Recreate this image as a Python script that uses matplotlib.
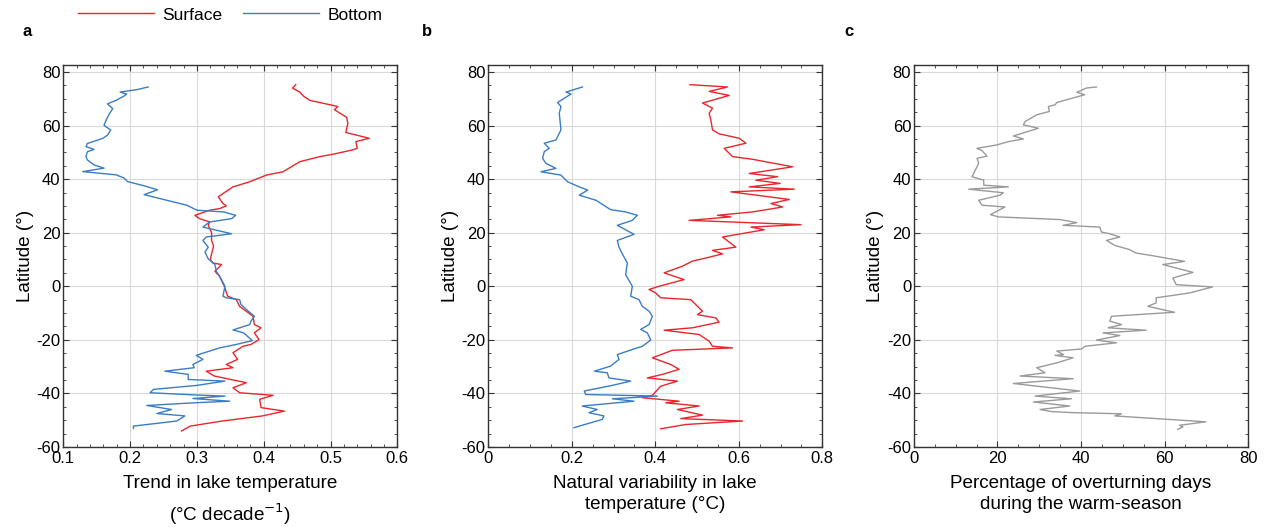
import numpy as np
import matplotlib
matplotlib.use("Agg")
import matplotlib.pyplot as plt
from matplotlib.ticker import MultipleLocator, FuncFormatter
from matplotlib.lines import Line2D

plt.rcParams['font.family'] = ['Liberation Sans', 'DejaVu Sans']
plt.rcParams['axes.unicode_minus'] = False

# ---- panel a: trend in lake temperature (degC / decade) ----
a_surf_lat = [75.25, 74, 72.5, 70.9, 69.4, 68.6, 67.1, 65.9, 63.1, 60.9, 57.4, 55.25, 54, 51.5, 50.9,
              49.25, 48.4, 46.5, 42.75, 41.5, 39, 37.1, 34.6, 33.4, 30.9, 30, 29, 28.4, 26.5, 25.25,
              24, 22.75, 20, 17.1, 15, 12.1, 10, 8.7, 8.1, 5.6, 3.7, 0, -3.7, -5, -7.5, -9.9, -11.2,
              -14.3, -15.5, -17.4, -19.9, -21.7, -22.4, -24.8, -27.3, -29.2, -30.4, -31.7, -33.5,
              -36, -37.9, -39.75, -40.7, -42.2, -45.3, -46.6, -48.4, -50.3, -52.2, -54]
a_surf_val = [0.448, 0.443, 0.454, 0.46, 0.469, 0.484, 0.511, 0.506, 0.524, 0.526, 0.523, 0.558, 0.538,
              0.54, 0.533, 0.503, 0.484, 0.454, 0.429, 0.404, 0.379, 0.354, 0.339, 0.332, 0.339, 0.344,
              0.334, 0.319, 0.297, 0.304, 0.319, 0.317, 0.322, 0.322, 0.325, 0.322, 0.32, 0.324, 0.337,
              0.327, 0.334, 0.341, 0.346, 0.359, 0.364, 0.377, 0.384, 0.386, 0.396, 0.386, 0.393, 0.381,
              0.369, 0.354, 0.361, 0.344, 0.354, 0.314, 0.326, 0.374, 0.354, 0.364, 0.414, 0.394, 0.396,
              0.431, 0.398, 0.338, 0.29, 0.277]

a_bot_lat = [74.4, 73.4, 72.5, 71.75, 70.9, 69.4, 68.1, 66.3, 64.4, 62, 60.1, 58.3, 56.4, 55.2, 53.3,
             52.1, 51.1, 50.2, 48.4, 47.2, 45.3, 44.1, 42.8, 41.6, 40.4, 39.1, 37.5, 36, 34.2, 32.1,
             30.25, 28.4, 27.75, 26.5, 25.25, 24, 22.1, 19.6, 18.4, 17.1, 14.6, 12.75, 10.25, 8.1, 5.6,
             3.7, 0, -3.7, -4.3, -5, -6.8, -9.3, -11.2, -13, -14.3, -16.3, -17.4, -20.3, -21.7, -23,
             -25.8, -27.3, -29.2, -30.4, -31.7, -32.9, -34.8, -35.4, -37, -38.5, -39.75, -40.6, -41,
             -41.9, -42.9, -43.5, -44.5, -46, -47.5, -48.4, -50.3, -52.2, -53]
a_bot_val = [0.227, 0.21, 0.185, 0.195, 0.19, 0.179, 0.166, 0.174, 0.169, 0.164, 0.161, 0.171, 0.166,
             0.159, 0.136, 0.134, 0.146, 0.136, 0.134, 0.136, 0.146, 0.161, 0.129, 0.179, 0.191, 0.196,
             0.221, 0.241, 0.221, 0.255, 0.285, 0.3, 0.34, 0.358, 0.352, 0.319, 0.309, 0.352, 0.314,
             0.309, 0.317, 0.312, 0.317, 0.327, 0.329, 0.334, 0.342, 0.339, 0.344, 0.364, 0.366, 0.377,
             0.386, 0.381, 0.379, 0.354, 0.37, 0.383, 0.359, 0.334, 0.299, 0.309, 0.294, 0.296, 0.252,
             0.287, 0.287, 0.342, 0.3, 0.235, 0.23, 0.3, 0.342, 0.294, 0.349, 0.296, 0.225, 0.262, 0.24,
             0.282, 0.27, 0.205, 0.205]

# ---- panel b: natural variability (degC) ----
b_surf_lat = [75.25, 74.4, 72.75, 71.25, 68.4, 66.5, 64.6, 62.1, 58.4, 56.9, 55.25, 53.4, 51.5, 48.4,
              47.4, 44.6, 42.1, 40.9, 39.6, 38.4, 37.1, 36.25, 35.25, 32.4, 30.9, 29.6, 27.75, 26.5,
              25.9, 24.6, 23, 22.1, 21.1, 18.4, 14.6, 13.4, 12.1, 10.5, 9.4, 7.5, 5, 2.5, 0, -1.2, -2.5,
              -4.3, -5, -9.3, -10.6, -11.8, -13.4, -15.5, -16.4, -18, -20.5, -22.4, -23, -23.9, -26.7,
              -29.2, -31, -32.9, -34.2, -35.4, -37.3, -40.7, -41.6, -42.9, -43.5, -44.7, -46, -48.1,
              -49.4, -50.3, -51.6, -53.2]
b_surf_val = [0.483, 0.573, 0.529, 0.577, 0.513, 0.537, 0.529, 0.533, 0.537, 0.553, 0.601, 0.617, 0.565,
              0.585, 0.633, 0.729, 0.625, 0.693, 0.641, 0.699, 0.625, 0.733, 0.581, 0.721, 0.677, 0.705,
              0.633, 0.549, 0.581, 0.481, 0.749, 0.629, 0.661, 0.561, 0.593, 0.537, 0.561, 0.52, 0.489,
              0.465, 0.421, 0.469, 0.409, 0.385, 0.401, 0.413, 0.485, 0.513, 0.501, 0.545, 0.553, 0.489,
              0.421, 0.505, 0.529, 0.537, 0.585, 0.441, 0.393, 0.437, 0.457, 0.417, 0.381, 0.453, 0.413,
              0.393, 0.369, 0.457, 0.425, 0.505, 0.453, 0.513, 0.461, 0.609, 0.473, 0.413]

b_bot_lat = [74.4, 72.5, 71.75, 68.6, 67.1, 64.6, 58.4, 54.6, 53.4, 51.5, 50.25, 47.75, 45.9, 44, 42.75,
             41.5, 39, 37.1, 35.9, 34, 32.1, 28.6, 27.75, 26.5, 24.6, 22.75, 19.4, 17.1, 14.6, 12.1,
             8.7, 4.3, 0, -3.7, -5, -7.5, -9.3, -11.2, -14.3, -16.1, -17.4, -20.1, -22.4, -23.6, -25.5,
             -27.3, -29.8, -31.7, -32.3, -34.2, -35.4, -37, -39.1, -40.4, -41, -42, -42.9, -44.7, -46,
             -47.2, -48.4, -49.7, -52.8]
b_bot_val = [0.2255, 0.186, 0.198, 0.166, 0.174, 0.17, 0.174, 0.162, 0.134, 0.146, 0.134, 0.13, 0.138,
             0.162, 0.126, 0.174, 0.19, 0.218, 0.238, 0.218, 0.258, 0.293, 0.329, 0.357, 0.345, 0.309,
             0.349, 0.309, 0.313, 0.321, 0.333, 0.329, 0.345, 0.341, 0.361, 0.369, 0.385, 0.393, 0.385,
             0.365, 0.381, 0.389, 0.369, 0.345, 0.309, 0.313, 0.293, 0.254, 0.285, 0.289, 0.341, 0.297,
             0.23, 0.233, 0.405, 0.297, 0.349, 0.225, 0.261, 0.241, 0.277, 0.273, 0.205]

# ---- panel c: overturning days (%) ----
c_lat = [74.4, 74, 72.4, 71.5, 68.6, 67.75, 67.1, 65.25, 64, 61.5, 60.25, 59, 56.1, 55, 54, 52.75, 51.5,
         50.6, 48.6, 47.75, 45.9, 40.9, 39.6, 37.75, 37.1, 36.25, 34.9, 34, 32.1, 30.25, 29.6, 26.75,
         25.9, 24.9, 23.75, 22.75, 22.1, 20.25, 19.6, 18.4, 17.1, 15.25, 13.7, 12.4, 11.4, 9.3, 8.1, 5.2,
         3.1, 0.6, -0.25, -2.5, -4.3, -6.2, -7.5, -9.7, -11.2, -13, -14.3, -15.5, -16.4, -17.4, -18.4,
         -20.1, -21.1, -22.4, -23.4, -24.2, -25.5, -25.8, -26.7, -28.6, -30.4, -32.3, -33.5, -34.5,
         -36.3, -39.1, -41, -42, -43.2, -44.7, -46, -46.8, -47.2, -47.6, -48.4, -50.6, -51.9, -52.5, -53.4]
c_val = [43.7, 41.3, 39, 40.9, 34.2, 33.8, 32.2, 32.4, 29.4, 26.6, 26.2, 29.8, 23.8, 26.2, 22.6, 19.8,
         15.1, 16.3, 17.5, 15.1, 15.5, 13.9, 16.7, 16.7, 22.6, 13.1, 21.4, 20.6, 15.5, 16.3, 21.8, 18.3,
         20.2, 35, 39, 35.7, 44.5, 44.9, 46.9, 49.3, 46.1, 48.1, 51.6, 53.2, 57.2, 64.8, 59.6, 66.8, 62,
         62.8, 71.5, 66, 58, 58, 56, 62.4, 47.3, 46.9, 49.7, 46.5, 55.6, 45.3, 49.3, 43.7, 48.5, 41,
         40.1, 34.2, 35.8, 33.8, 38.1, 34.2, 29.4, 31.4, 25.4, 38.1, 23.8, 39.7, 29, 37.7, 28.6, 37.3,
         30.2, 33, 38.5, 49.7, 48.1, 69.9, 63.6, 64.4, 63.2]

red = '#e8262b'
blue = '#3a7dc3'
gray = '#9a9a9a'

fig = plt.figure(figsize=(12.67, 5.27), dpi=100)
W, H = 1267, 527
lefts = [63.3, 488.3, 914]
axes = []
for l in lefts:
    ax = fig.add_axes([l / W, 1 - 447 / H, 334 / W, (447 - 65) / H])
    axes.append(ax)

ax1, ax2, ax3 = axes
ax1.plot(a_surf_val, a_surf_lat, color=red, lw=1.0)
ax1.plot(a_bot_val, a_bot_lat, color=blue, lw=1.0)
ax2.plot(b_surf_val, b_surf_lat, color=red, lw=1.0)
ax2.plot(b_bot_val, b_bot_lat, color=blue, lw=1.0)
ax3.plot(c_val, c_lat, color=gray, lw=1.0)

ax1.set_xlim(0.1, 0.6)
ax1.xaxis.set_major_locator(MultipleLocator(0.1))
ax1.xaxis.set_minor_locator(MultipleLocator(0.02))
ax2.set_xlim(0, 0.8)
ax2.xaxis.set_major_locator(MultipleLocator(0.2))
ax2.xaxis.set_minor_locator(MultipleLocator(0.05))
ax3.set_xlim(0, 80)
ax3.xaxis.set_major_locator(MultipleLocator(20))
ax3.xaxis.set_minor_locator(MultipleLocator(5))

fmt = FuncFormatter(lambda v, p: '%g' % round(v, 6))

ax1.set_xlabel('Trend in lake temperature\n(°C decade$^{-1}$)', fontsize=13.6, labelpad=6,
               linespacing=1.5)
ax2.set_xlabel('Natural variability in lake\ntemperature (°C)', fontsize=13.6, labelpad=6,
               linespacing=1.32)
ax3.set_xlabel('Percentage of overturning days\nduring the warm-season', fontsize=13.6, labelpad=6,
               linespacing=1.32)

for ax in axes:
    ax.set_ylim(-60, 82.6)
    ax.yaxis.set_major_locator(MultipleLocator(20))
    ax.yaxis.set_minor_locator(MultipleLocator(5))
    ax.xaxis.set_major_formatter(fmt)
    ax.yaxis.set_major_formatter(fmt)
    ax.set_ylabel('Latitude (°)', fontsize=13.6, labelpad=2)
    ax.grid(True, which='major', color='#d9d9d9', lw=0.8)
    ax.set_axisbelow(True)
    ax.tick_params(which='both', direction='in', top=True, right=True, labelsize=12,
                   color='#333333', pad=2)
    ax.tick_params(axis='x', pad=3)
    ax.tick_params(which='major', length=4)
    ax.tick_params(which='minor', length=2.5)
    for s in ax.spines.values():
        s.set_color('#333333')
        s.set_linewidth(1.0)

for lab, x in zip(['a', 'b', 'c'], [27, 427, 849]):
    fig.text(x / W, 1 - 32 / H, lab, fontsize=12, fontweight='bold', ha='center', va='center')

handles = [Line2D([], [], color=red, lw=1.0), Line2D([], [], color=blue, lw=1.0)]
fig.legend(handles, ['Surface', 'Bottom'], loc='center', bbox_to_anchor=(230 / W, 1 - 15 / H),
           ncol=2, frameon=False, fontsize=12.5, handlelength=4.4, handletextpad=0.45,
           columnspacing=1.2)

fig.savefig('out.png', dpi=100)
